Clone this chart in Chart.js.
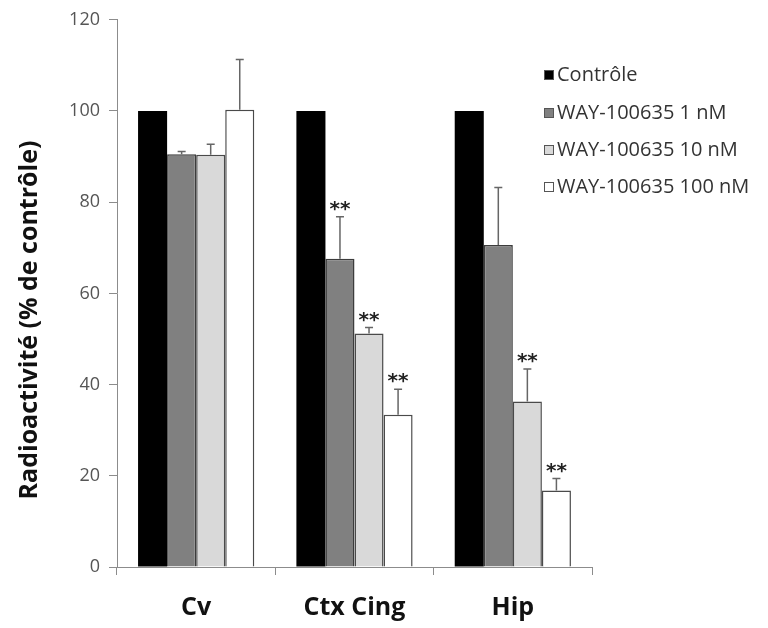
<!DOCTYPE html>
<html>
<head>
<meta charset="utf-8">
<script src="https://cdn.jsdelivr.net/npm/chart.js@4.4.1/dist/chart.umd.min.js"></script>
<style>
  html, body { margin: 0; padding: 0; background: #fff; }
  #wrap { width: 768px; height: 628px; }
</style>
</head>
<body>
<div id="wrap"><canvas id="chart" width="768" height="628"></canvas></div>
<script>
// données
const regions = ['Cv', 'Ctx Cing', 'Hip'];
const seriesNames = ['Contrôle', 'WAY-100635 1 nM', 'WAY-100635 10 nM', 'WAY-100635 100 nM'];
const controle = [100, 100, 100];
const way1 = [90.5, 67.6, 70.6];
const way10 = [90.4, 51.2, 36.3];
const way100 = [100.3, 33.4, 16.8];
const errControle = [0, 0, 0];
const err1 = [0.6, 9.2, 12.6];
const err10 = [2.3, 1.3, 7.1];
const err100 = [11, 5.6, 2.6];
const sig1 = ['', '**', ''];
const sig10 = ['', '**', '**'];
const sig100 = ['', '**', '**'];
const yTicks = [0, 20, 40, 60, 80, 100, 120];
const yTitle = 'Radioactivité (% de contrôle)';

const fills = ['#000000', '#808080', '#d9d9d9', '#ffffff'];
const borders = ['#000000', '#3c3c3c', '#4a4a4a', '#4a4a4a'];
const allValues = [controle, way1, way10, way100];
const allErrors = [errControle, err1, err10, err100];
const allSig = [['', '', ''], sig1, sig10, sig100];

// barres d'erreur + étoiles
const errorBarsPlugin = {
    id: 'errorBars',
    afterDatasetsDraw(chart) {
        const ctx = chart.ctx;
        const y = chart.scales.y;
        ctx.save();
        chart.data.datasets.forEach((ds, di) => {
            const meta = chart.getDatasetMeta(di);
            meta.data.forEach((bar, i) => {
                const err = allErrors[di][i];
                const top = y.getPixelForValue(ds.data[i] + err);
                if (err > 0) {
                    ctx.strokeStyle = '#666';
                    ctx.lineWidth = 1.5;
                    ctx.beginPath();
                    ctx.moveTo(bar.x, bar.y);
                    ctx.lineTo(bar.x, top);
                    ctx.moveTo(bar.x - 4, top);
                    ctx.lineTo(bar.x + 4, top);
                    ctx.stroke();
                }
                const s = allSig[di][i];
                if (s) {
                    ctx.fillStyle = '#222';
                    ctx.font = 'bold 20px "DejaVu Sans"';
                    ctx.textAlign = 'center';
                    ctx.textBaseline = 'middle';
                    ctx.fillText(s, bar.x, top - 7);
                }
            });
        });
        ctx.restore();
    }
};

// légende à droite + titre de l'axe y
const legendPlugin = {
    id: 'sideLegend',
    afterDraw(chart) {
        const ctx = chart.ctx;
        const rows = [75, 113, 150, 187];
        ctx.save();
        ctx.font = '20px "Open Sans"';
        ctx.textBaseline = 'middle';
        ctx.textAlign = 'left';
        seriesNames.forEach((name, i) => {
            ctx.fillStyle = fills[i];
            ctx.fillRect(544, rows[i] - 5, 10, 10);
            ctx.strokeStyle = '#555';
            ctx.lineWidth = 1;
            ctx.strokeRect(544.5, rows[i] - 4.5, 9, 9);
            ctx.fillStyle = '#333';
            ctx.fillText(name, 557, rows[i]);
        });
        ctx.translate(30, 320);
        ctx.rotate(-Math.PI / 2);
        ctx.textAlign = 'center';
        ctx.fillStyle = '#111';
        ctx.font = 'bold 25px "Open Sans"';
        ctx.fillText(yTitle, 0, 0);
        ctx.restore();
    }
};

new Chart(document.getElementById('chart'), {
    type: 'bar',
    data: {
        labels: regions,
        datasets: seriesNames.map((name, i) => ({
            label: name,
            data: allValues[i],
            backgroundColor: fills[i],
            borderColor: borders[i],
            borderWidth: i === 0 ? 0 : 1.5,
            barPercentage: 1,
            categoryPercentage: 0.734
        }))
    },
    options: {
        responsive: false,
        animation: false,
        layout: { padding: { top: 17, right: 176, left: 0, bottom: 0 } },
        plugins: {
            legend: { display: false },
            tooltip: { enabled: false }
        },
        scales: {
            x: {
                grid: { drawOnChartArea: false, drawTicks: true, tickLength: 8, color: '#8c8c8c', offset: true },
                border: { color: '#8c8c8c', width: 1 },
                ticks: { color: '#111', font: { family: 'Open Sans', size: 25, weight: 'bold' }, padding: 18 },
                afterFit(scale) { scale.height = 61; }
            },
            y: {
                min: 0,
                max: 120,
                afterBuildTicks(scale) { scale.ticks = yTicks.map(v => ({ value: v })); },
                grid: { drawOnChartArea: false, drawTicks: true, tickLength: 8, color: '#8c8c8c' },
                border: { color: '#8c8c8c', width: 1 },
                ticks: { color: '#555', font: { family: 'Open Sans', size: 18 }, padding: 9 },
                afterFit(scale) { scale.width = 117; }
            }
        }
    },
    plugins: [errorBarsPlugin, legendPlugin]
});
</script>
</body>
</html>
